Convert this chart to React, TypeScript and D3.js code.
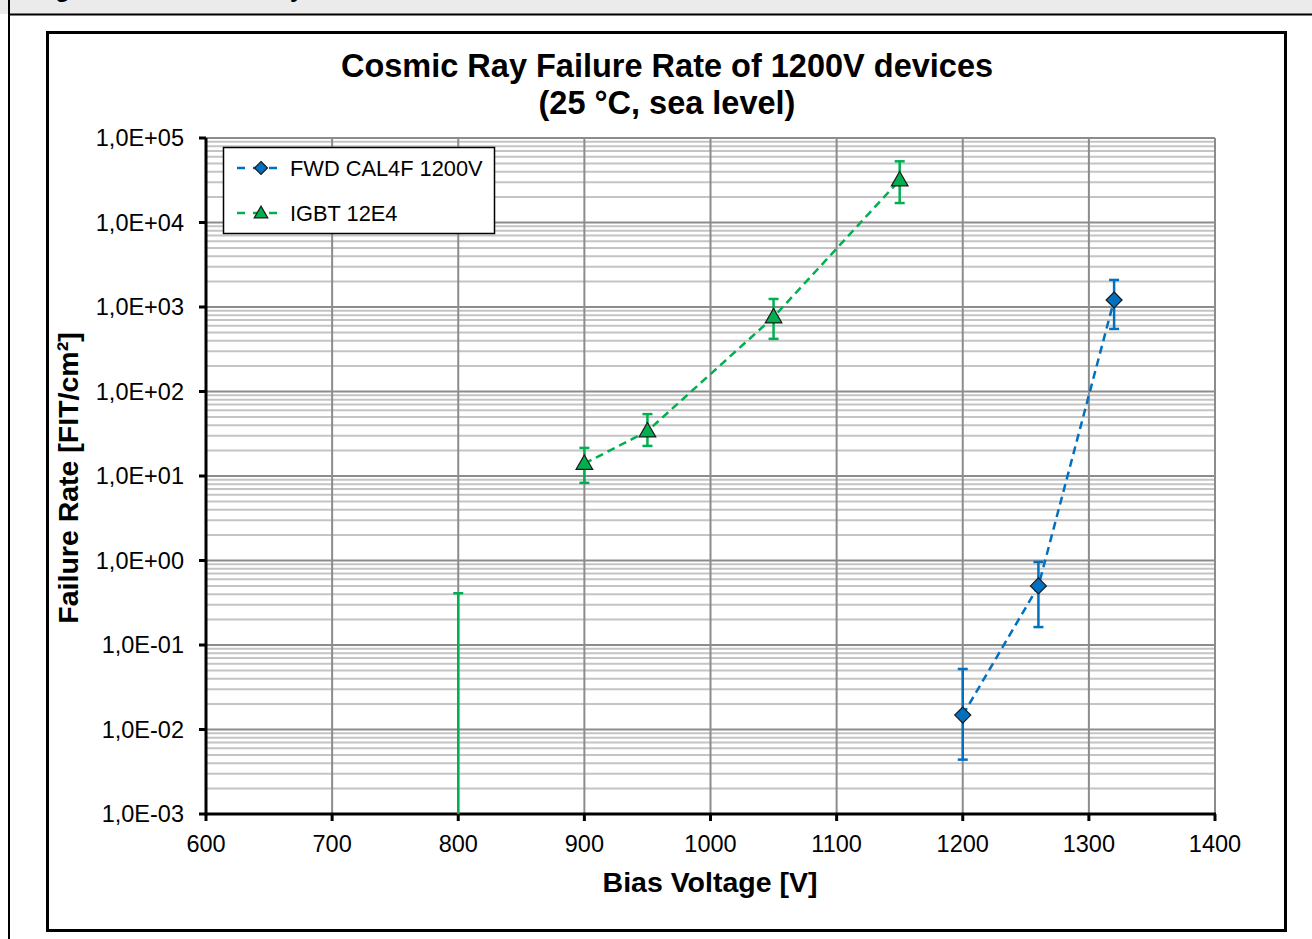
import React from "react";
import * as d3 from "d3";

// x: bias voltage [V], y: failure rate [FIT/cm²], lo/hi: error bar ends
const igbtVoltage = [900, 950, 1050, 1150];
const igbtRate = [14, 34, 760, 31800];
const igbtLow = [8.3, 22.7, 420, 17000];
const igbtHigh = [21.5, 54, 1245, 53000];

// upper limit at 800 V (no failures observed)
const igbtLimitVoltage = [800];
const igbtLimitHigh = [0.41];

const fwdVoltage = [1200, 1260, 1320];
const fwdRate = [0.0148, 0.5, 1210];
const fwdLow = [0.0044, 0.163, 550];
const fwdHigh = [0.052, 0.96, 2090];

const xTicks = [600, 700, 800, 900, 1000, 1100, 1200, 1300, 1400];
const yTicks = [1e-3, 1e-2, 1e-1, 1e0, 1e1, 1e2, 1e3, 1e4, 1e5];
const yTickLabels = ["1,0E-03", "1,0E-02", "1,0E-01", "1,0E+00", "1,0E+01", "1,0E+02", "1,0E+03", "1,0E+04", "1,0E+05"];

const GREEN = "#00b050";
const BLUE = "#0070c0";
const FONT = "'Liberation Sans', Arial, sans-serif";

export default function App() {
  const W = 1312, H = 939;
  const plot = { left: 206, right: 1215, top: 138, bottom: 814 };

  const x = d3.scaleLinear().domain([600, 1400]).range([plot.left, plot.right]);
  const y = d3.scaleLog().domain([1e-3, 1e5]).range([plot.bottom, plot.top]);

  // minor grid at 2..9 of every decade
  const minor: number[] = [];
  for (let e = -3; e < 5; e++) for (let m = 2; m <= 9; m++) minor.push(m * Math.pow(10, e));

  const line = d3.line<[number, number]>().x((d) => x(d[0])).y((d) => y(d[1]));
  const igbtPts = igbtVoltage.map((v, i) => [v, igbtRate[i]] as [number, number]);
  const fwdPts = fwdVoltage.map((v, i) => [v, fwdRate[i]] as [number, number]);

  const tri = d3.symbol().type(d3.symbolTriangle).size(120)();
  const dia = (s: number) => `M0,${-s}L${s},0L0,${s}L${-s},0Z`;

  const errBar = (v: number, lo: number, hi: number, color: string, key: string) => {
    const cx = x(v);
    const y1 = lo <= 1e-3 ? plot.bottom : y(lo);
    const y2 = y(hi);
    return (
      <g key={key} stroke={color} strokeWidth={2.5}>
        <line x1={cx} x2={cx} y1={y1} y2={y2} />
        <line x1={cx - 5} x2={cx + 5} y1={y2} y2={y2} />
        {lo > 1e-3 && <line x1={cx - 5} x2={cx + 5} y1={y1} y2={y1} />}
      </g>
    );
  };

  return (
    <svg width={W} height={H} style={{ position: "absolute", left: 0, top: 0, background: "#fff" }} fontFamily={FONT}>
      {/* page header band, cut off at the top of the picture */}
      <rect x={0} y={0} width={W} height={14} fill="#ebebeb" />
      <text x={34} y={-3} fontSize={24} fontWeight="bold" fill="#000">Figure 6</text>
      <text x={174} y={-3} fontSize={24} fontWeight="bold" fill="#000">Cosmic ray failure rate</text>
      <line x1={9} x2={W} y1={14.5} y2={14.5} stroke="#000" strokeWidth={2} />
      <line x1={9} x2={9} y1={0} y2={H} stroke="#000" strokeWidth={2} />

      {/* chart frame */}
      <rect x={47.5} y={32.5} width={1238} height={898} fill="#fff" stroke="#000" strokeWidth={3} />

      <text x={667} y={77} textAnchor="middle" fontSize={32.5} fontWeight="bold">Cosmic Ray Failure Rate of 1200V devices</text>
      <text x={667} y={114} textAnchor="middle" fontSize={32.5} fontWeight="bold">(25 °C, sea level)</text>

      {/* grid */}
      <g>
        {minor.map((m) => (
          <line key={"mn" + m} x1={plot.left} x2={plot.right} y1={y(m)} y2={y(m)} stroke="#c4c4c4" strokeWidth={2} />
        ))}
        {yTicks.map((t) => (
          <line key={"mj" + t} x1={plot.left} x2={plot.right} y1={y(t)} y2={y(t)} stroke="#8c8c8c" strokeWidth={2} />
        ))}
        {xTicks.map((t) => (
          <line key={"vx" + t} x1={x(t)} x2={x(t)} y1={plot.top} y2={plot.bottom} stroke="#8c8c8c" strokeWidth={2} />
        ))}
      </g>

      {/* axes */}
      <line x1={plot.left} x2={plot.left} y1={plot.top} y2={plot.bottom + 1.5} stroke="#000" strokeWidth={3} />
      <line x1={plot.left - 1.5} x2={plot.right + 1} y1={plot.bottom} y2={plot.bottom} stroke="#000" strokeWidth={3} />
      {yTicks.map((t, i) => (
        <g key={"yt" + t}>
          <line x1={plot.left - 7} x2={plot.left} y1={y(t)} y2={y(t)} stroke="#000" strokeWidth={3} />
          <text x={184} y={y(t)} dy="0.35em" textAnchor="end" fontSize={23.5}>{yTickLabels[i]}</text>
        </g>
      ))}
      {xTicks.map((t) => (
        <g key={"xt" + t}>
          <line x1={x(t)} x2={x(t)} y1={plot.bottom} y2={plot.bottom + 7} stroke="#000" strokeWidth={3} />
          <text x={x(t)} y={852} textAnchor="middle" fontSize={23.5}>{t}</text>
        </g>
      ))}

      <text x={710} y={892} textAnchor="middle" fontSize={28.5} fontWeight="bold">Bias Voltage [V]</text>
      <text transform={`translate(78,${(plot.top + plot.bottom) / 2 + 2}) rotate(-90)`} textAnchor="middle" fontSize={28.5} fontWeight="bold">
        Failure Rate [FIT/cm²]
      </text>

      {/* series */}
      <path d={line(igbtPts) || ""} fill="none" stroke={GREEN} strokeWidth={2.5} strokeDasharray="8,5" />
      <path d={line(fwdPts) || ""} fill="none" stroke={BLUE} strokeWidth={2.5} strokeDasharray="8,5" />

      {igbtLimitVoltage.map((v, i) => errBar(v, 1e-4, igbtLimitHigh[i], GREEN, "lim" + i))}
      {igbtVoltage.map((v, i) => errBar(v, igbtLow[i], igbtHigh[i], GREEN, "ie" + i))}
      {fwdVoltage.map((v, i) => errBar(v, fwdLow[i], fwdHigh[i], BLUE, "fe" + i))}

      {igbtPts.map((p, i) => (
        <path key={"im" + i} d={tri || ""} transform={`translate(${x(p[0])},${y(p[1]) + 1})`} fill={GREEN} stroke="#1a1a1a" strokeWidth={1.2} />
      ))}
      {fwdPts.map((p, i) => (
        <path key={"fm" + i} d={dia(8)} transform={`translate(${x(p[0])},${y(p[1])})`} fill={BLUE} stroke="#1a1a1a" strokeWidth={1.2} />
      ))}

      {/* legend */}
      <rect x={223.5} y={147.5} width={271} height={86} fill="#fff" stroke="#000" strokeWidth={1.5} />
      <g>
        <line x1={237} x2={285} y1={168} y2={168} stroke={BLUE} strokeWidth={2.5} strokeDasharray="8,8" />
        <path d={dia(6.5)} transform="translate(261,168)" fill={BLUE} stroke="#1a1a1a" strokeWidth={1.2} />
        <text x={290} y={168} dy="0.35em" fontSize={21.8}>FWD CAL4F 1200V</text>
        <line x1={237} x2={285} y1={213} y2={213} stroke={GREEN} strokeWidth={2.5} strokeDasharray="8,8" />
        <path d={d3.symbol().type(d3.symbolTriangle).size(80)() || ""} transform="translate(261,214)" fill={GREEN} stroke="#1a1a1a" strokeWidth={1.2} />
        <text x={290} y={213} dy="0.35em" fontSize={21.8}>IGBT 12E4</text>
      </g>
    </svg>
  );
}
